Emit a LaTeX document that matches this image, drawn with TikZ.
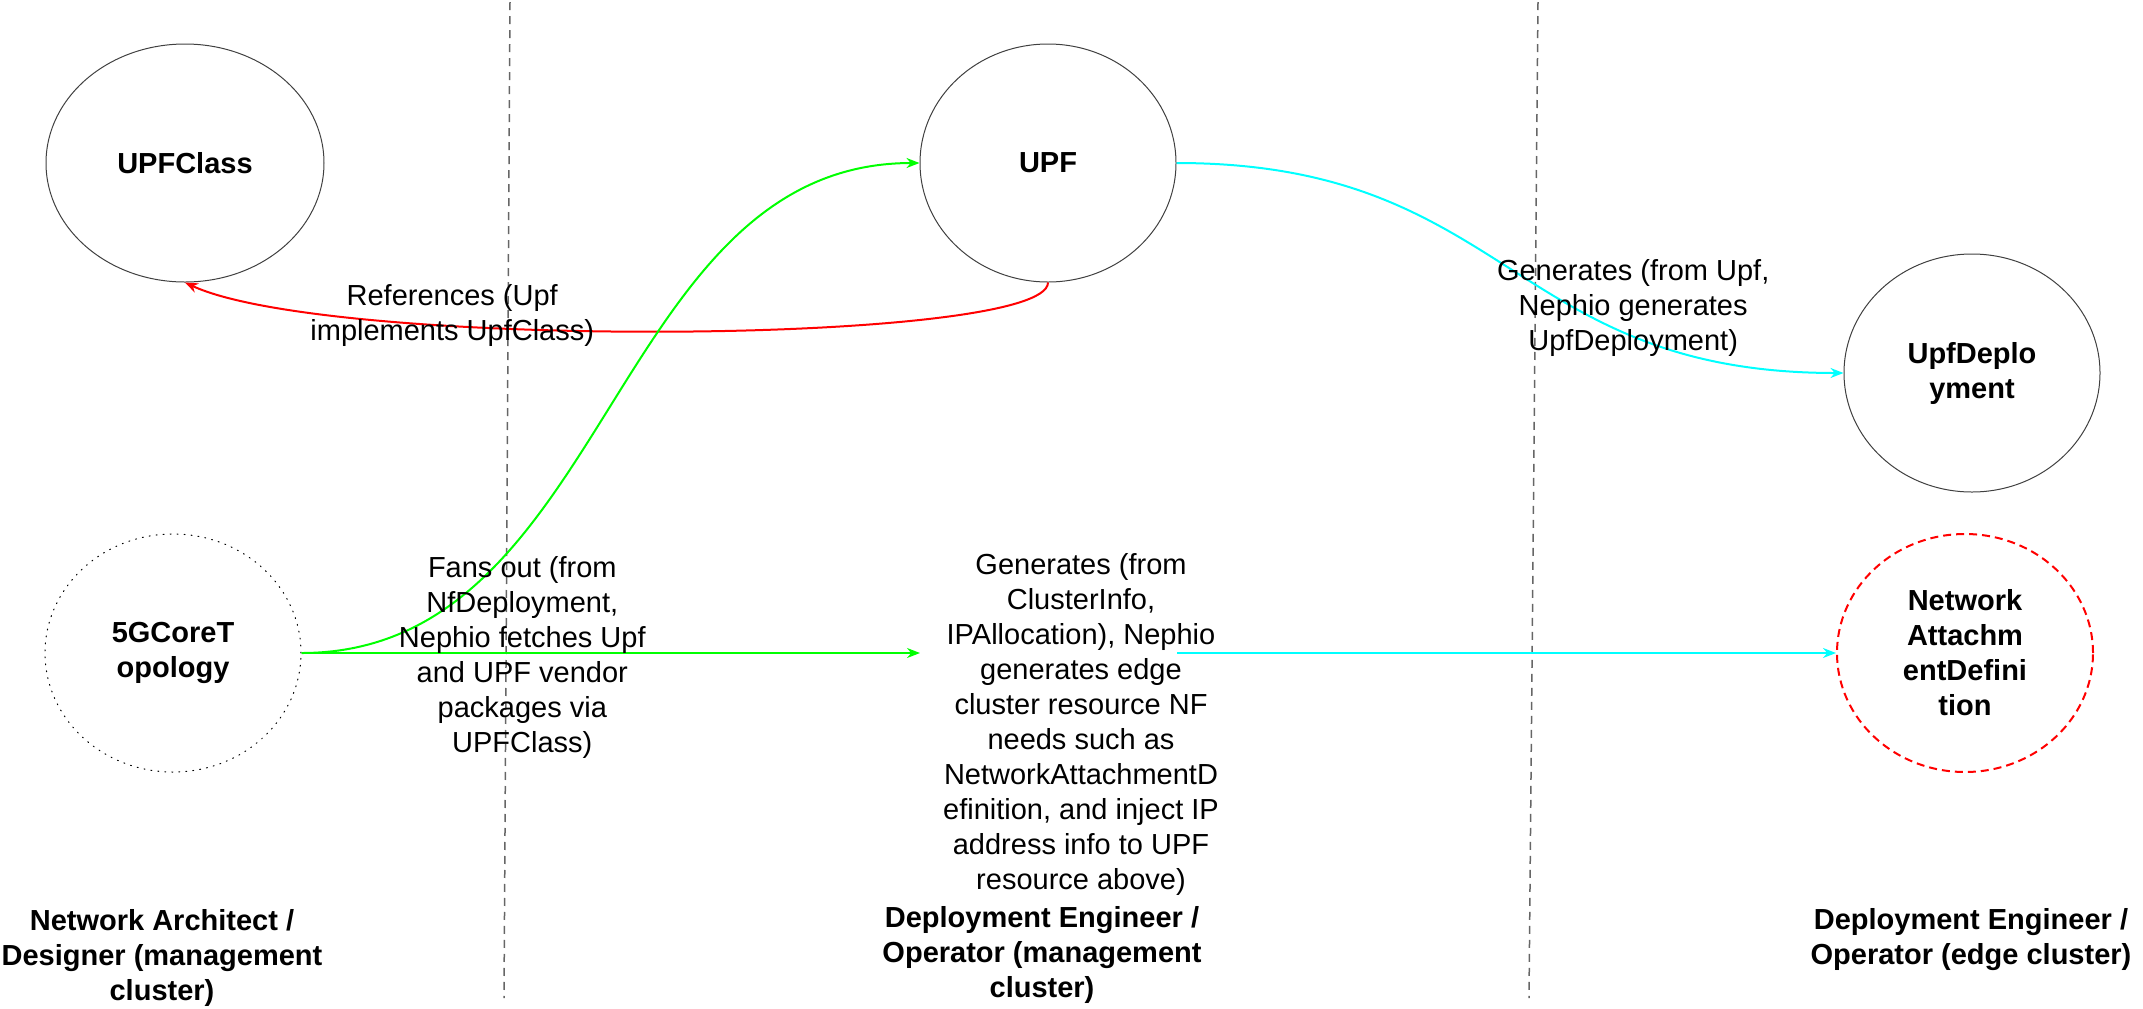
\documentclass[tikz,border=0pt]{standalone}
\usepackage{fontspec}
\setmainfont{Liberation Sans}
\usetikzlibrary{shapes.geometric,arrows.meta}
\definecolor{aqua}{RGB}{0,255,255}
\definecolor{lime}{RGB}{0,255,0}
\begin{document}
\begin{tikzpicture}[x=0.5pt,y=-0.5pt,
  every node/.style={font=\fontsize{14.5}{17.5}\selectfont,align=center,inner sep=0pt,text=black},
  kind/.style={ellipse,draw=black!75,line width=0.5pt,minimum width=128pt,minimum height=119pt,
    font=\fontsize{14.5}{17.5}\selectfont\bfseries},
  role/.style={font=\fontsize{14.5}{17.5}\selectfont\bfseries},
  lane/.style={draw=black!60,line width=0.75pt,dash pattern=on 4pt off 3pt},
  flow/.style={line width=1pt,-{Stealth[length=6.5pt,width=5pt]}}]
\useasboundingbox (0,0) rectangle (2143,1008);
\draw[lane] (510,2) -- (504,998);
\draw[lane] (1538,2) -- (1529,998);
\node[kind,minimum width=139pt] (upfclass) at (185,163) {UPFClass};
\node[kind] (upf) at (1048,163) {UPF};
\node[kind] (upfdep) at (1972,373) {UpfDeplo\\yment};
\node[kind,draw=black,dash pattern=on 0.5pt off 3pt,line cap=round] (core) at (173,653) {5GCoreT\\opology};
\node[kind,draw=red,line width=1pt,dash pattern=on 4pt off 2.5pt] (nad) at (1965,653)
  {Network\\Attachm\\entDefini\\tion};
\node (gen) at (1081,724) {Generates (from\\ClusterInfo,\\IPAllocation), Nephio\\generates edge\\
  cluster resource NF\\needs such as\\NetworkAttachmentD\\efinition, and inject IP\\
  address info to UPF\\resource above)};
\coordinate (gen in) at (920,653);
\coordinate (gen out) at (1177,653);
\node[role] (architect) at (162,958) {Network Architect /\\Designer (management\\cluster)};
\node[role] (mgmtop) at (1042,955) {Deployment Engineer /\\Operator (management\\cluster)};
\node[role] (edgeop) at (1971,940) {Deployment Engineer /\\Operator (edge cluster)};
\draw[flow,red] (upf.south) .. controls (1048,345) and (330,350) .. (upfclass.south)
  node[pos=0.685,yshift=5pt] {References (Upf\\implements UpfClass)};
\draw[flow,lime] (core.east) .. controls (610,653) and (610,163) .. (upf.west);
\draw[flow,lime] (core.east) -- (gen in)
  node[pos=0.357,yshift=-2pt] {Fans out (from\\NfDeployment,\\Nephio fetches Upf\\and UPF vendor\\packages via\\UPFClass)};
\draw[flow,aqua] (upf.east) .. controls (1510,163) and (1510,373) .. (upfdep.west)
  node[pos=0.73,yshift=13.5pt] {Generates (from Upf,\\Nephio generates\\UpfDeployment)};
\draw[flow,aqua] (gen out) -- (nad.west);
\end{tikzpicture}
\end{document}
